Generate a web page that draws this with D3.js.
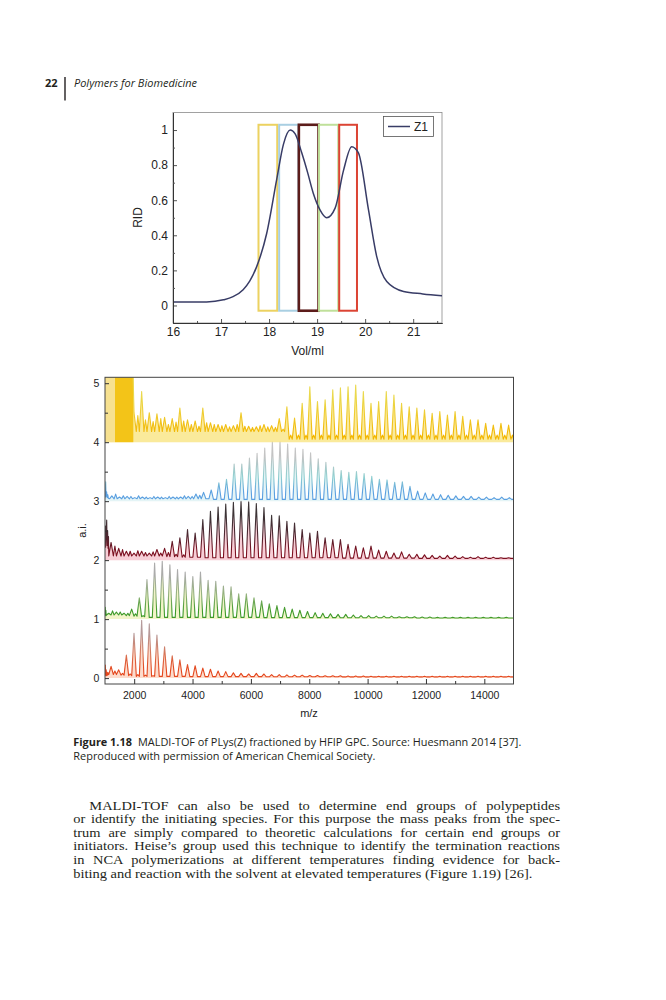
<!DOCTYPE html>
<html>
<head>
<meta charset="utf-8">
<script src="https://cdn.jsdelivr.net/npm/d3@7/dist/d3.min.js"></script>
<style>
body { margin: 0; background: #fff; }
svg { display: block; }
</style>
</head>
<body>
<svg id="page" width="666" height="1000"></svg>
<script>
/*=====================================
=            Data                     =
=====================================*/

// GPC trace Z1 (elution volume / RID signal)
var gpcVol = [16.0, 16.35, 16.7, 17.05, 17.25, 17.46, 17.6, 17.74, 17.95, 18.16, 18.3, 18.44, 18.54, 18.68,
              18.8, 18.92, 19.06, 19.2, 19.375, 19.55, 19.72, 19.86, 20.07, 20.24, 20.45, 20.8, 21.2, 21.6];
var gpcRid = [0.019, 0.02, 0.02, 0.032, 0.05, 0.09, 0.14, 0.22, 0.41, 0.72, 0.92, 1.0, 0.98, 0.87,
              0.76, 0.64, 0.545, 0.5, 0.555, 0.77, 0.905, 0.87, 0.545, 0.28, 0.137, 0.08, 0.066, 0.055];

// collected fractions (ml)
var fracFrom = [17.78, 18.21, 18.62, 19.04, 19.46];
var fracTo = [18.17, 18.61, 19.03, 19.44, 19.83];
var fracTop = 1.03;
var fracBottom = -0.03;

var gpcXTicks = [16, 17, 18, 19, 20, 21];
var gpcYTicks = [0, 0.2, 0.4, 0.6, 0.8, 1];

// MALDI: Lys(Z) repeat peaks (m/z)
var peakMz = [1208, 1470, 1732, 1994, 2256, 2518, 2780, 3042, 3304, 3566,
              3828, 4090, 4352, 4614, 4876, 5138, 5400, 5662, 5924, 6186,
              6448, 6710, 6972, 7234, 7496, 7758, 8020, 8282, 8544, 8806,
              9068, 9330, 9592, 9854, 10116, 10378, 10640, 10902, 11164, 11426,
              11688, 11950, 12212, 12474, 12736, 12998, 13260, 13522, 13784, 14046,
              14308, 14570, 14832];

// fraction 5 (offset 0)
var redLow = [[1000, 0.03], [1012, 0.22], [1022, 0.05], [1040, 0.14], [1055, 0.04], [1075, 0.1], [1092, 0.05], [1110, 0.09]];
var redPeaks = [0.20, 0.14, 0.39, 0.76, 0.98, 0.92, 0.73, 0.53, 0.38, 0.31,
                0.23, 0.21, 0.17, 0.15, 0.12, 0.11, 0.09, 0.08, 0.07, 0.08,
                0.07, 0.06, 0.06, 0.055, 0.05, 0.05, 0.045, 0.045, 0.04, 0.04,
                0.04, 0.035, 0.035, 0.035, 0.03, 0.03, 0.03, 0.03, 0.03, 0.03,
                0.03, 0.03, 0.03, 0.03, 0.03, 0.03, 0.03, 0.03, 0.03, 0.03,
                0.03, 0.03, 0.03];
var redValley = [0.06, 0.05, 0.04, 0.03, 0.03, 0.03, 0.03, 0.03, 0.03, 0.03,
                 0.025, 0.025, 0.025, 0.025, 0.025, 0.025, 0.025, 0.025, 0.025, 0.025,
                 0.022, 0.022, 0.022, 0.022, 0.022, 0.022, 0.022, 0.022, 0.022, 0.022,
                 0.02, 0.02, 0.02, 0.02, 0.02, 0.02, 0.02, 0.02, 0.02, 0.02,
                 0.02, 0.02, 0.02, 0.02, 0.02, 0.02, 0.02, 0.02, 0.02, 0.02,
                 0.02, 0.02, 0.02];
var redMinor = [0.12, 0.08, 0.07, 0.06, 0.05, 0.04];

// fraction 4 (offset 1)
var greenLow = [[1000, 0.05], [1008, 0.2], [1018, 0.07], [1030, 0.15], [1042, 0.06]];
var greenPeaks = [0.10, 0.12, 0.10, 0.17, 0.36, 0.67, 0.95, 0.98, 0.92, 0.84,
                  0.80, 0.72, 0.80, 0.66, 0.64, 0.56, 0.55, 0.43, 0.43, 0.36,
                  0.31, 0.26, 0.23, 0.20, 0.17, 0.15, 0.13, 0.11, 0.10, 0.09,
                  0.08, 0.08, 0.07, 0.06, 0.06, 0.05, 0.05, 0.05, 0.04, 0.04,
                  0.04, 0.035, 0.035, 0.03, 0.03, 0.03, 0.03, 0.03, 0.03, 0.03,
                  0.03, 0.03, 0.03];
var greenValley = [0.07, 0.07, 0.06, 0.05, 0.04, 0.03, 0.03, 0.03, 0.03, 0.03,
                   0.03, 0.03, 0.03, 0.03, 0.03, 0.03, 0.03, 0.03, 0.03, 0.03,
                   0.025, 0.025, 0.025, 0.025, 0.025, 0.025, 0.025, 0.025, 0.025, 0.025,
                   0.022, 0.022, 0.022, 0.022, 0.022, 0.022, 0.022, 0.022, 0.022, 0.022,
                   0.02, 0.02, 0.02, 0.02, 0.02, 0.02, 0.02, 0.02, 0.02, 0.02,
                   0.02, 0.02, 0.02];
var greenMinor = [0.14, 0.12, 0.1, 0.09, 0.06];

// fraction 3 (offset 2)
var maroonLow = [[1000, 0.3], [1012, 0.58], [1022, 0.22], [1040, 0.48], [1058, 0.68], [1072, 0.25], [1090, 0.5], [1105, 0.2], [1120, 0.4]];
var maroonPeaks = [0.30, 0.20, 0.15, 0.12, 0.15, 0.12, 0.18, 0.20, 0.32, 0.38,
                   0.52, 0.46, 0.69, 0.83, 0.90, 0.95, 0.98, 1.00, 0.99, 0.96,
                   0.89, 0.76, 0.75, 0.66, 0.63, 0.52, 0.46, 0.49, 0.38, 0.35,
                   0.35, 0.27, 0.24, 0.21, 0.24, 0.17, 0.15, 0.12, 0.14, 0.10,
                   0.10, 0.09, 0.08, 0.07, 0.08, 0.07, 0.06, 0.05, 0.06, 0.05,
                   0.05, 0.04, 0.04];
var maroonValley = [0.07, 0.07, 0.07, 0.07, 0.07, 0.07, 0.07, 0.06, 0.06, 0.05,
                    0.05, 0.05, 0.04, 0.04, 0.04, 0.04, 0.04, 0.04, 0.04, 0.04,
                    0.04, 0.04, 0.04, 0.04, 0.04, 0.04, 0.04, 0.04, 0.04, 0.04,
                    0.035, 0.035, 0.035, 0.035, 0.035, 0.035, 0.035, 0.035, 0.035, 0.035,
                    0.03, 0.03, 0.03, 0.03, 0.03, 0.03, 0.03, 0.03, 0.03, 0.03,
                    0.03, 0.03, 0.03];
var maroonMinor = [0.24, 0.18, 0.15, 0.16, 0.13, 0.14, 0.12, 0.13, 0.1, 0.09];

// fraction 2 (offset 3)
var blueLow = [[1000, 0.05], [1012, 0.2], [1024, 0.33], [1036, 0.08], [1055, 0.16], [1075, 0.06], [1095, 0.11], [1115, 0.05]];
var bluePeaks = [0.09, 0.07, 0.08, 0.06, 0.07, 0.06, 0.07, 0.06, 0.07, 0.07,
                 0.08, 0.12, 0.15, 0.19, 0.31, 0.37, 0.63, 0.63, 0.73, 0.81,
                 0.90, 1.01, 1.01, 0.97, 0.90, 0.88, 0.82, 0.72, 0.66, 0.58,
                 0.52, 0.49, 0.50, 0.47, 0.42, 0.37, 0.36, 0.32, 0.33, 0.25,
                 0.17, 0.14, 0.12, 0.11, 0.10, 0.09, 0.08, 0.08, 0.07, 0.07,
                 0.06, 0.07, 0.06];
var blueValley = [0.04, 0.04, 0.04, 0.04, 0.04, 0.04, 0.04, 0.04, 0.04, 0.04,
                  0.04, 0.04, 0.04, 0.03, 0.03, 0.03, 0.03, 0.03, 0.03, 0.03,
                  0.03, 0.03, 0.03, 0.03, 0.03, 0.03, 0.03, 0.03, 0.03, 0.03,
                  0.03, 0.03, 0.03, 0.03, 0.03, 0.03, 0.03, 0.03, 0.03, 0.03,
                  0.03, 0.03, 0.03, 0.03, 0.03, 0.03, 0.03, 0.03, 0.03, 0.03,
                  0.03, 0.03, 0.03];
var blueMinor = [0.12, 0.09, 0.08, 0.09, 0.07, 0.08, 0.07, 0.08, 0.07, 0.09, 0.08, 0.1];

// fraction 1 (offset 4)
var yellowLow = [[1000, 1.2], [1960, 1.2]];
var yellowPeaks = [1.2, 1.2, 1.2, 0.50, 0.86, 0.50, 0.48, 0.42, 0.40, 0.58,
                   0.38, 0.36, 0.58, 0.33, 0.30, 0.30, 0.28, 0.50, 0.27, 0.26,
                   0.30, 0.28, 0.40, 0.60, 0.41, 0.66, 0.94, 0.69, 0.72, 0.89,
                   0.92, 0.94, 0.97, 0.86, 0.66, 0.69, 0.86, 0.80, 0.66, 0.60,
                   0.58, 0.55, 0.49, 0.52, 0.46, 0.52, 0.44, 0.38, 0.38, 0.32,
                   0.29, 0.32, 0.29];
var yellowValley = [1.2, 1.2, 1.2, 0.18, 0.18, 0.18, 0.18, 0.18, 0.18, 0.18,
                    0.18, 0.18, 0.18, 0.18, 0.18, 0.18, 0.18, 0.18, 0.18, 0.18,
                    0.18, 0.18, 0.18, 0.05, 0.05, 0.05, 0.05, 0.05, 0.05, 0.05,
                    0.05, 0.05, 0.05, 0.05, 0.05, 0.05, 0.05, 0.05, 0.05, 0.05,
                    0.05, 0.05, 0.05, 0.05, 0.05, 0.05, 0.05, 0.05, 0.05, 0.05,
                    0.05, 0.05, 0.05];
var yellowMinor = [1.2, 1.2, 1.2, 0.45, 0.38, 0.35, 0.4, 0.3, 0.34, 0.36,
                   0.3, 0.27, 0.33, 0.3, 0.28, 0.26, 0.3, 0.27, 0.25, 0.28,
                   0.26, 0.25, 0.22, 0.12, 0.12, 0.12, 0.12, 0.12, 0.12, 0.12,
                   0.12, 0.12, 0.12, 0.12, 0.12, 0.12, 0.12, 0.12, 0.12, 0.12,
                   0.12, 0.12, 0.12, 0.12, 0.12, 0.12, 0.12, 0.12, 0.12, 0.12,
                   0.12, 0.12, 0.12];
// saturated matrix region of fraction 1
var matrixMz = [1000, 1343, 1970];

var specOffset = [0, 1, 2, 3, 4];
var specShift = [0, -80, 0, 26, 0];

var maldiXTicks = [2000, 4000, 6000, 8000, 10000, 12000, 14000];
var maldiYTicks = [0, 1, 2, 3, 4, 5];

// page texts
var captionLines = ["MALDI-TOF of PLys(Z) fractioned by HFIP GPC. Source: Huesmann 2014 [37].",
                    "Reproduced with permission of American Chemical Society."];
var bodyLines = ["MALDI-TOF can also be used to determine end groups of polypeptides",
                 "or identify the initiating species. For this purpose the mass peaks from the spec-",
                 "trum are simply compared to theoretic calculations for certain end groups or",
                 "initiators. Heise\u2019s group used this technique to identify the termination reactions",
                 "in NCA polymerizations at different temperatures finding evidence for back-",
                 "biting and reaction with the solvent at elevated temperatures (Figure 1.19) [26]."];

/*-----  End of data  ------*/

var svg = d3.select('#page');
var SANS = "'Liberation Sans', Arial, sans-serif";
var BOOK_SANS = "'Open Sans', 'Noto Sans', sans-serif";
var SERIF = "'Liberation Serif', 'DejaVu Serif', serif";

function init() {
    svg.append('rect').attr('width', 666).attr('height', 1000).attr('fill', '#fff');
    drawHeader();
    drawGpc();
    drawMaldi();
    drawTexts();
}

/*=====================================
=            Running head             =
=====================================*/

function drawHeader() {
    svg.append('text')
        .attr('x', 45).attr('y', 87)
        .style('font-family', BOOK_SANS).style('font-size', '11px').style('font-weight', 'bold')
        .attr('fill', '#231f20')
        .text('22');
    svg.append('line')
        .attr('x1', 65).attr('x2', 65).attr('y1', 77).attr('y2', 100.5)
        .attr('stroke', '#231f20').attr('stroke-width', 1.4);
    svg.append('text')
        .attr('x', 74).attr('y', 87)
        .attr('textLength', 123).attr('lengthAdjust', 'spacingAndGlyphs')
        .style('font-family', BOOK_SANS).style('font-size', '11px').style('font-style', 'italic')
        .attr('fill', '#231f20')
        .text('Polymers for Biomedicine');
}

/*=====================================
=            GPC chart                =
=====================================*/

function drawGpc() {
    var x = d3.scaleLinear().domain([16, 21.6]).range([173, 442]);
    var y = d3.scaleLinear().domain([-0.1, 1.1]).range([323, 112.5]);
    var g = svg.append('g');

    g.append('rect')
        .attr('x', 173).attr('y', 112.5).attr('width', 269).attr('height', 210.5)
        .attr('fill', 'none').attr('stroke', '#8a8a8a').attr('stroke-width', 0.8);

    var fracStroke = ['#ecd261', '#a9cfe2', '#5c1c1a', '#bfe09a', '#dc4434'];
    var fracWidth = [2, 2, 2.6, 2, 2];
    g.selectAll('.frac')
        .data(fracFrom)
        .enter().append('rect')
        .attr('class', 'frac')
        .attr('x', function(d) { return x(d); })
        .attr('width', function(d, i) { return x(fracTo[i]) - x(d); })
        .attr('y', y(fracTop))
        .attr('height', y(fracBottom) - y(fracTop))
        .attr('fill', 'none')
        .attr('stroke', function(d, i) { return fracStroke[i]; })
        .attr('stroke-width', function(d, i) { return fracWidth[i]; });

    var line = d3.line()
        .x(function(d, i) { return x(gpcVol[i]); })
        .y(function(d) { return y(d); })
        .curve(d3.curveMonotoneX);
    g.append('path')
        .datum(gpcRid)
        .attr('d', line)
        .attr('fill', 'none')
        .attr('stroke', '#383c66')
        .attr('stroke-width', 1.5);

    // axes
    g.append('g').attr('transform', 'translate(0,323)')
        .call(d3.axisBottom(x).tickValues(gpcXTicks).tickFormat(d3.format('d'))
            .tickSize(-4).tickSizeOuter(0).tickPadding(4.5));
    g.append('g').attr('transform', 'translate(0,323)')
        .call(d3.axisBottom(x).tickValues([16.5, 17.5, 18.5, 19.5, 20.5, 21.5]).tickFormat('')
            .tickSize(-2).tickSizeOuter(0));
    g.append('g').attr('transform', 'translate(173,0)')
        .call(d3.axisLeft(y).tickValues(gpcYTicks).tickFormat(d3.format('~g'))
            .tickSize(-4).tickSizeOuter(0).tickPadding(5));
    g.append('g').attr('transform', 'translate(173,0)')
        .call(d3.axisLeft(y).tickValues([0.1, 0.3, 0.5, 0.7, 0.9]).tickFormat('')
            .tickSize(-2).tickSizeOuter(0));
    g.selectAll('.domain').attr('stroke', '#333').attr('stroke-width', 1);
    g.selectAll('.tick line').attr('stroke', '#555');
    g.selectAll('.tick text')
        .style('font-family', SANS).style('font-size', '12px').attr('fill', '#222');

    g.append('text')
        .attr('x', 307.5).attr('y', 355)
        .attr('text-anchor', 'middle')
        .style('font-family', SANS).style('font-size', '12px').attr('fill', '#222')
        .text('Vol/ml');
    g.append('text')
        .attr('transform', 'translate(142,217.5) rotate(-90)')
        .attr('text-anchor', 'middle')
        .style('font-family', SANS).style('font-size', '12px').attr('fill', '#222')
        .text('RID');

    // legend
    g.append('rect')
        .attr('x', 383.5).attr('y', 116.5).attr('width', 50).attr('height', 20)
        .attr('fill', '#fff').attr('stroke', '#555').attr('stroke-width', 0.8);
    g.append('line')
        .attr('x1', 388).attr('x2', 410).attr('y1', 126.5).attr('y2', 126.5)
        .attr('stroke', '#383c66').attr('stroke-width', 1.5);
    g.append('text')
        .attr('x', 414).attr('y', 130.8)
        .style('font-family', SANS).style('font-size', '12px').attr('fill', '#222')
        .text('Z1');
}

/*=====================================
=            MALDI-TOF chart          =
=====================================*/

function spectrumPoints(low, peaks, valley, minor, shift) {
    var step = peakMz[1] - peakMz[0];
    var pts = low.map(function(d) { return [d[0], d[1]]; });
    peakMz.forEach(function(m, j) {
        var c = m + shift;
        pts.push([c - 0.3 * step, j ? valley[j - 1] : valley[0]]);
        pts.push([c, peaks[j]]);
        pts.push([c + 0.3 * step, valley[j]]);
        if (j < minor.length) pts.push([c + 0.5 * step, minor[j]]);
    });
    pts.push([15000, valley[valley.length - 1]]);
    pts.sort(function(a, b) { return a[0] - b[0]; });
    return pts;
}

function drawMaldi() {
    var x = d3.scaleLinear().domain([1000, 15000]).range([105, 513.5]);
    var y = d3.scaleLinear().domain([-0.1, 5.1]).range([684, 377.3]);
    var g = svg.append('g');

    var defs = svg.append('defs');
    defs.append('clipPath').attr('id', 'maldiClip')
        .append('rect').attr('x', 105).attr('y', 377.3).attr('width', 408.5).attr('height', 306.7);

    var spectra = [
        { low: redLow, peaks: redPeaks, valley: redValley, minor: redMinor },
        { low: greenLow, peaks: greenPeaks, valley: greenValley, minor: greenMinor },
        { low: maroonLow, peaks: maroonPeaks, valley: maroonValley, minor: maroonMinor },
        { low: blueLow, peaks: bluePeaks, valley: blueValley, minor: blueMinor },
        { low: yellowLow, peaks: yellowPeaks, valley: yellowValley, minor: yellowMinor }
    ];
    var strokeBase = ['#e4461c', '#3f9a2a', '#7c1020', '#5a9fe0', '#f2b600'];
    var strokeMid = ['#d87456', '#92b27a', '#4e2630', '#8ecfd0', '#f0c828'];
    var strokeTop = ['#b59a9a', '#ababab', '#3c3436', '#c4c4c4', '#ead84c'];
    var fillCol = ['#fbd6c4', '#f0f2c0', '#f6c6cf', '#dff2f4', '#f9e68a'];

    var plot = g.append('g').attr('clip-path', 'url(#maldiClip)');

    spectra.forEach(function(s, i) {
        var off = specOffset[i];
        var pts = spectrumPoints(s.low, s.peaks, s.valley, s.minor, specShift[i]);

        var grad = defs.append('linearGradient')
            .attr('id', 'specGrad' + i)
            .attr('gradientUnits', 'userSpaceOnUse')
            .attr('x1', 0).attr('x2', 0)
            .attr('y1', y(off)).attr('y2', y(off + 1));
        grad.append('stop').attr('offset', 0).attr('stop-color', strokeBase[i]);
        grad.append('stop').attr('offset', 0.15).attr('stop-color', strokeBase[i]);
        grad.append('stop').attr('offset', 0.4).attr('stop-color', strokeMid[i]);
        grad.append('stop').attr('offset', 0.75).attr('stop-color', strokeTop[i]);
        grad.append('stop').attr('offset', 1).attr('stop-color', strokeTop[i]);

        var area = d3.area()
            .x(function(d) { return x(d[0]); })
            .y0(y(off))
            .y1(function(d) { return y(off + d[1]); });
        var line = d3.line()
            .x(function(d) { return x(d[0]); })
            .y(function(d) { return y(off + d[1]); });

        plot.append('path')
            .datum(pts)
            .attr('d', area)
            .attr('fill', fillCol[i])
            .attr('fill-opacity', 0.85);

        if (i === 4) {
            // saturated matrix block at low mass
            plot.append('rect')
                .attr('x', x(matrixMz[0])).attr('width', x(matrixMz[1]) - x(matrixMz[0]))
                .attr('y', y(5.1)).attr('height', y(off) - y(5.1))
                .attr('fill', '#f7e190');
            plot.append('rect')
                .attr('x', x(matrixMz[1])).attr('width', x(matrixMz[2]) - x(matrixMz[1]))
                .attr('y', y(5.1)).attr('height', y(off) - y(5.1))
                .attr('fill', '#f3c418');
        }

        plot.append('path')
            .datum(pts)
            .attr('d', line)
            .attr('fill', 'none')
            .attr('stroke', 'url(#specGrad' + i + ')')
            .attr('stroke-width', 1.1)
            .attr('stroke-linejoin', 'round');
    });

    // frame
    g.append('rect')
        .attr('x', 105).attr('y', 377.3).attr('width', 408.5).attr('height', 306.7)
        .attr('fill', 'none').attr('stroke', '#444').attr('stroke-width', 1);

    g.append('g').attr('transform', 'translate(0,684)')
        .call(d3.axisBottom(x).tickValues(maldiXTicks).tickFormat(d3.format('d'))
            .tickSize(-5).tickSizeOuter(0).tickPadding(7.8));
    g.append('g').attr('transform', 'translate(0,684)')
        .call(d3.axisBottom(x).tickValues([3000, 5000, 7000, 9000, 11000, 13000]).tickFormat('')
            .tickSize(-3).tickSizeOuter(0));
    g.append('g').attr('transform', 'translate(105,0)')
        .call(d3.axisLeft(y).tickValues(maldiYTicks).tickFormat(d3.format('d'))
            .tickSize(-4).tickSizeOuter(0).tickPadding(5.7));
    g.append('g').attr('transform', 'translate(105,0)')
        .call(d3.axisLeft(y).tickValues([0.5, 1.5, 2.5, 3.5, 4.5]).tickFormat('')
            .tickSize(-3).tickSizeOuter(0));
    g.selectAll('.domain').remove();
    g.selectAll('.tick line').attr('stroke', '#333');
    g.selectAll('.tick text')
        .style('font-family', SANS).style('font-size', '10.5px').attr('fill', '#222');

    g.append('text')
        .attr('x', 309).attr('y', 717)
        .attr('text-anchor', 'middle')
        .style('font-family', SANS).style('font-size', '11px').attr('fill', '#222')
        .text('m/z');
    g.append('text')
        .attr('transform', 'translate(85.5,530.5) rotate(-90)')
        .attr('text-anchor', 'middle')
        .style('font-family', SANS).style('font-size', '11px').attr('fill', '#222')
        .text('a.i.');
}

/*=====================================
=            Caption and body         =
=====================================*/

function drawTexts() {
    var cap = svg.append('text')
        .attr('x', 73.3).attr('y', 746)
        .attr('textLength', 448).attr('lengthAdjust', 'spacingAndGlyphs')
        .style('font-family', BOOK_SANS).style('font-size', '10.6px').attr('fill', '#231f20');
    cap.append('tspan').style('font-weight', 'bold').text('Figure 1.18');
    cap.append('tspan').attr('dx', 6).text(captionLines[0]);
    svg.append('text')
        .attr('x', 73.3).attr('y', 760.3)
        .attr('textLength', 302).attr('lengthAdjust', 'spacingAndGlyphs')
        .style('font-family', BOOK_SANS).style('font-size', '10.6px').attr('fill', '#231f20')
        .text(captionLines[1]);

    // justified paragraph: glyphs widened a little (book face is wider than
    // Liberation Serif), the rest of each line taken up by word spacing
    var bodyX = [89.3, 73.3, 73.3, 73.3, 73.3, 73.3];
    var bodyRight = 560;
    var widen = 1.12;
    svg.selectAll('.body')
        .data(bodyLines)
        .enter().append('text')
        .attr('class', 'body')
        .attr('x', function(d, i) { return bodyX[i]; })
        .attr('y', function(d, i) { return 809.5 + i * 13.65; })
        .style('font-family', SERIF).style('font-size', '12.9px').attr('fill', '#231f20')
        .text(function(d) { return d; })
        .each(function(d, i) {
            var natural = this.getComputedTextLength();
            var sel = d3.select(this).attr('lengthAdjust', 'spacingAndGlyphs');
            if (i === bodyLines.length - 1) {
                sel.attr('textLength', natural * widen);
                return;
            }
            var target = bodyRight - bodyX[i];
            var spaces = d.split(' ').length - 1;
            var extra = Math.max(0, (target / widen - natural) / spaces);
            sel.style('word-spacing', extra + 'px').attr('textLength', target);
        });
}

init();
</script>
</body>
</html>
